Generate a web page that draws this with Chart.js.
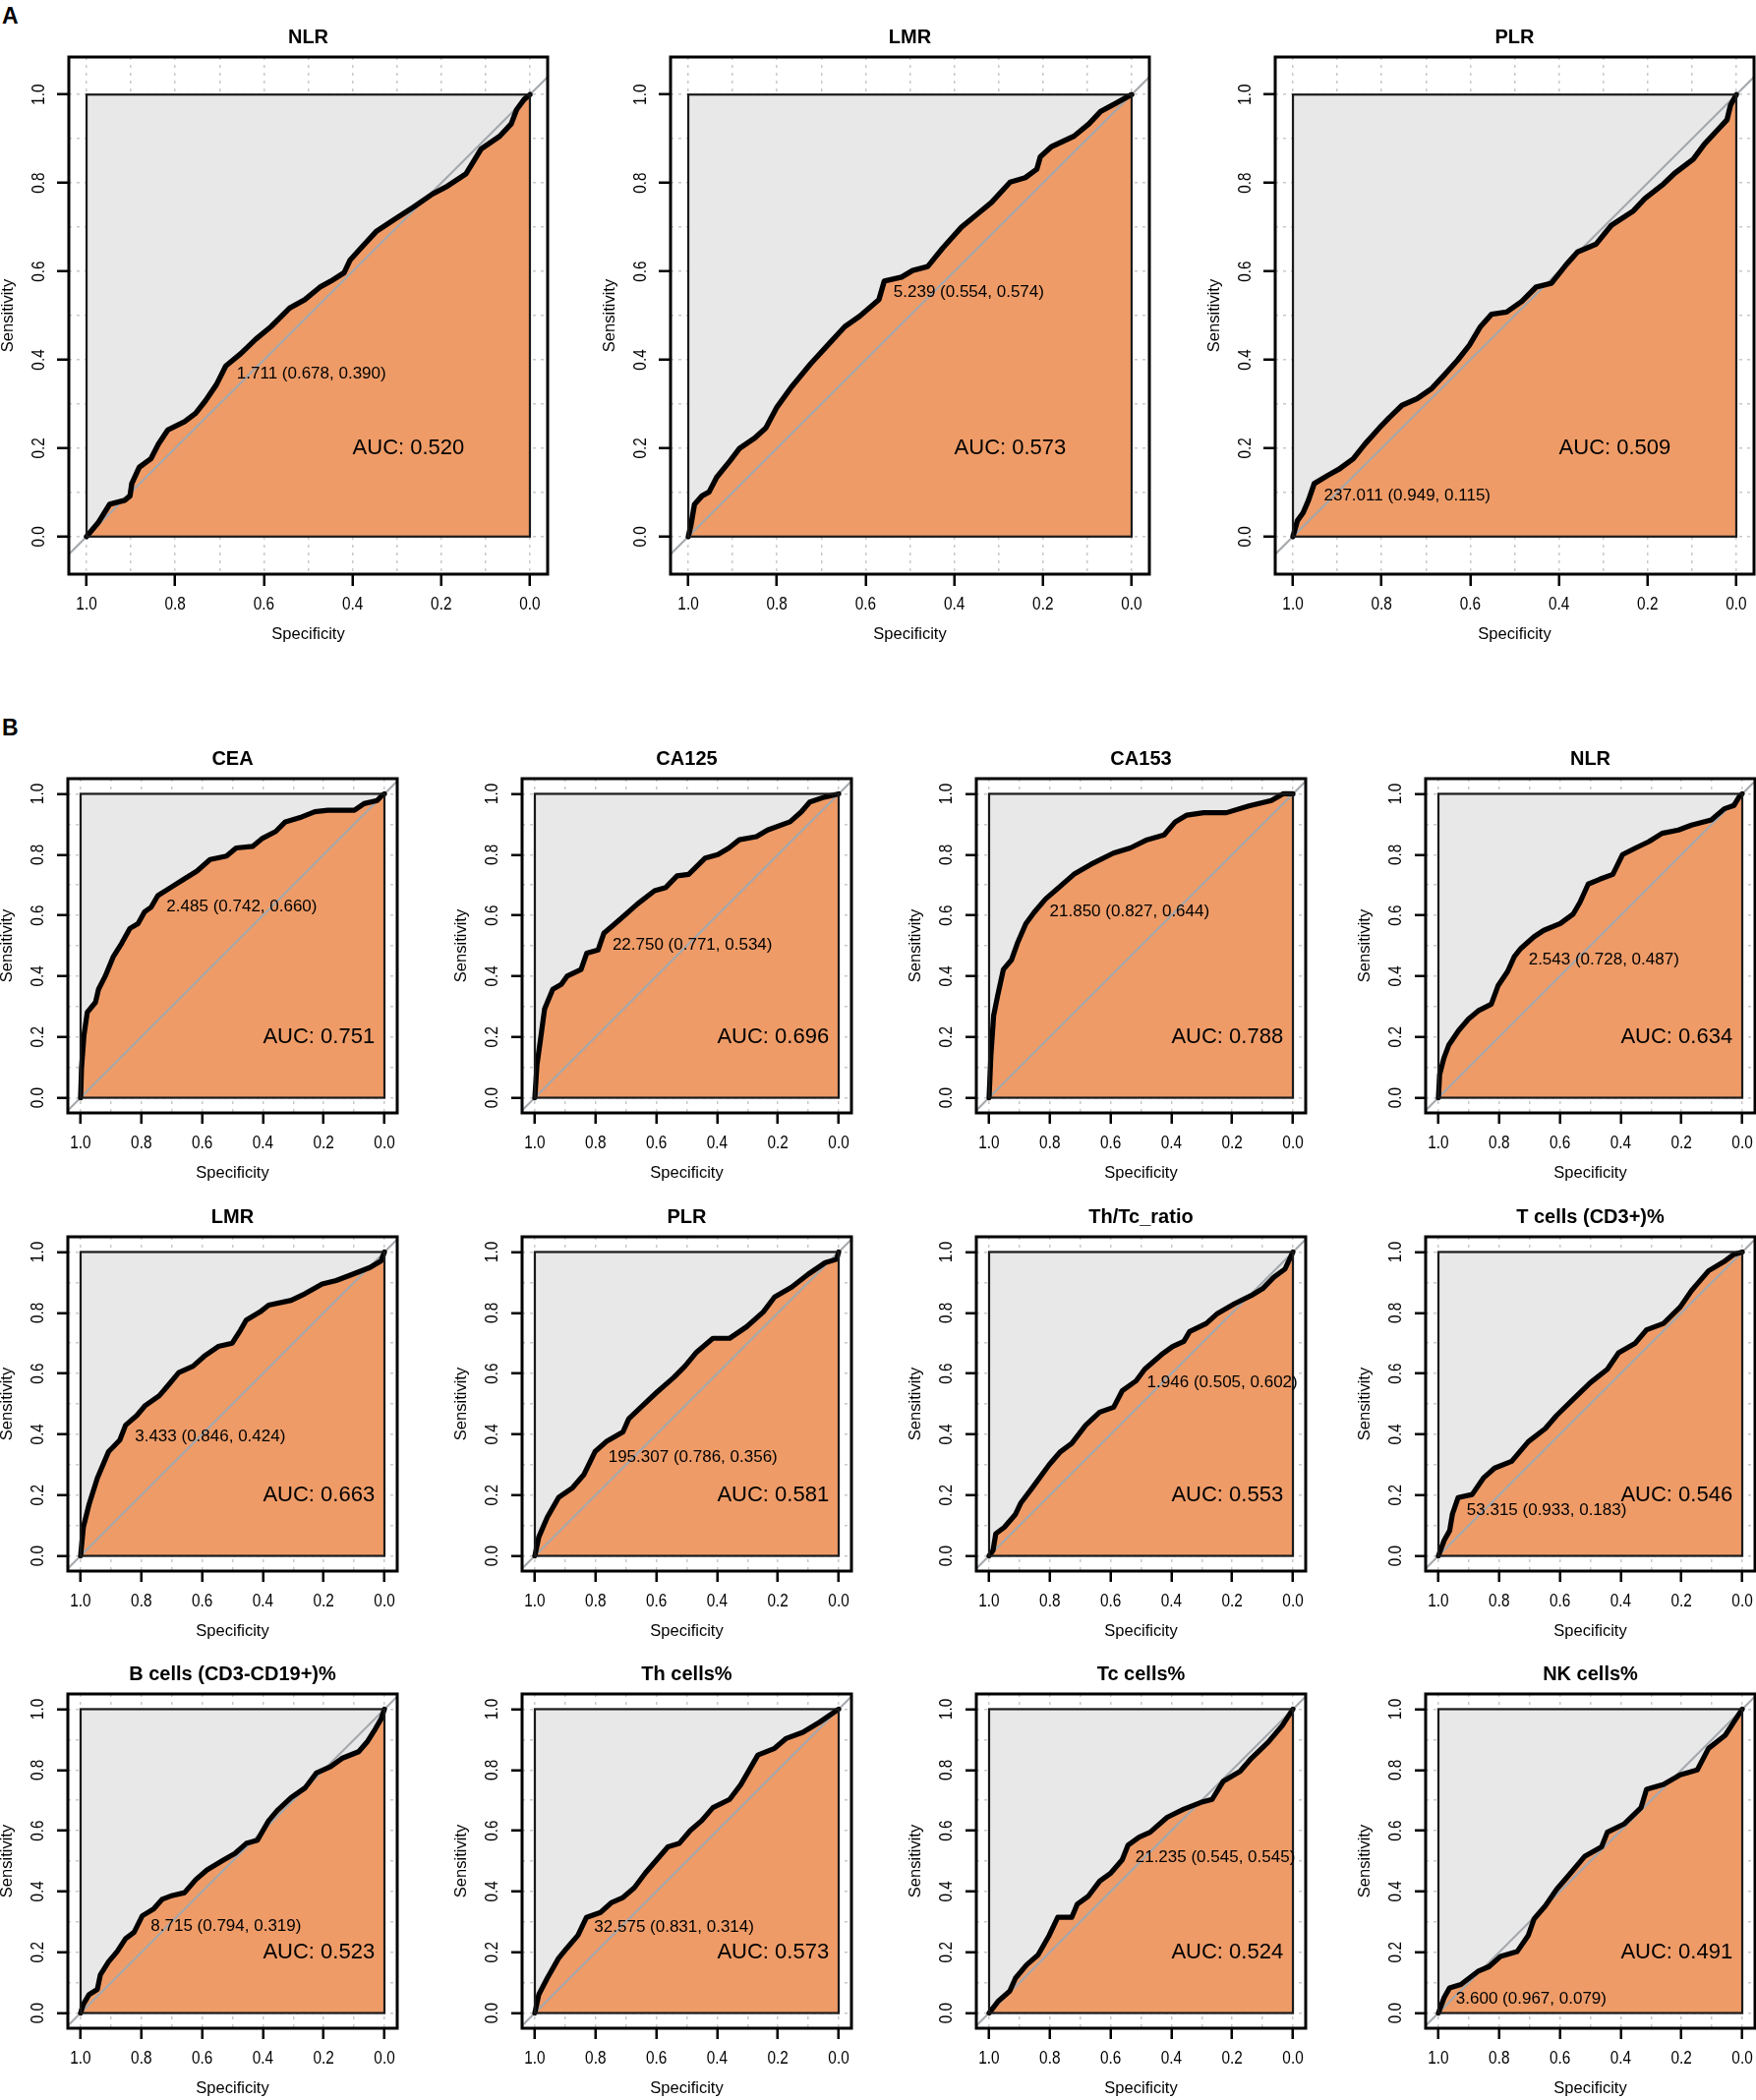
<!DOCTYPE html>
<html>
<head>
<meta charset="utf-8">
<script src="https://cdn.jsdelivr.net/npm/chart.js@4.4.1/dist/chart.umd.min.js"></script>
<style>
  body { margin: 0; background: #fff; width: 1786px; height: 2136px; overflow: hidden; position: relative;
         font-family: "Liberation Sans", Arial, Helvetica, sans-serif; }
  canvas { position: absolute; }
  .tag { position: absolute; font-weight: bold; line-height: 1; font-size: 23px; }
</style>
</head>
<body>
<div class="tag" style="left:2px;top:5px">A</div>
<div class="tag" style="left:2px;top:729px">B</div>
<script>
// ---- data (specificity / sensitivity pairs) ----
const gridVals = [0, 0.1, 0.2, 0.3, 0.4, 0.5, 0.6, 0.7, 0.8, 0.9, 1];
const labelVals = [0, 0.2, 0.4, 0.6, 0.8, 1];
const tickText = ['0.0', '0.2', '0.4', '0.6', '0.8', '1.0'];

// panel A
const titlesA = ['NLR', 'LMR', 'PLR'];
const aucA = [0.520, 0.573, 0.509];
const cutA = [1.711, 5.239, 237.011];
const cutSpecA = [0.678, 0.554, 0.949];
const cutSensA = [0.390, 0.574, 0.115];

const specA1 = [1,.974,.948,.914,.902,.898,.881,.855,.838,.817,.779,.754,.732,.707,.686,.652,.618,.584,.542,.508,.474,.449,.419,.406,.381,.347,.305,.262,.220,.186,.144,.127,.110,.068,.042,.030,.013,0];
const sensA1 = [0,.031,.073,.082,.092,.12,.157,.176,.209,.241,.26,.279,.307,.344,.386,.414,.447,.475,.517,.536,.564,.578,.597,.625,.653,.69,.718,.746,.775,.793,.821,.849,.877,.906,.934,.966,.989,1];
const specA2 = [1,.994,.986,.969,.953,.936,.906,.885,.850,.825,.8,.766,.724,.681,.647,.613,.570,.558,.519,.494,.460,.426,.384,.350,.316,.274,.240,.214,.206,.181,.130,.096,.070,.036,0];
const sensA2 = [0,.026,.073,.092,.101,.134,.171,.199,.223,.246,.293,.34,.391,.438,.475,.499,.536,.578,.587,.602,.611,.653,.7,.728,.756,.802,.812,.831,.859,.882,.906,.934,.962,.980,1];
const specA3 = [1,.99,.977,.965,.952,.922,.897,.864,.838,.805,.783,.754,.720,.687,.661,.628,.602,.577,.552,.518,.484,.451,.417,.383,.358,.316,.282,.232,.206,.164,.139,.097,.072,.046,.021,.013,0];
const sensA3 = [0,.036,.054,.082,.12,.138,.152,.176,.209,.246,.269,.297,.312,.335,.363,.4,.433,.475,.503,.508,.532,.565,.573,.616,.644,.662,.704,.737,.765,.798,.822,.854,.888,.916,.943,.976,1];

// panel B
const titlesB = ['CEA', 'CA125', 'CA153', 'NLR', 'LMR', 'PLR', 'Th/Tc_ratio', 'T cells (CD3+)%',
                 'B cells (CD3-CD19+)%', 'Th cells%', 'Tc cells%', 'NK cells%'];
const aucB = [0.751, 0.696, 0.788, 0.634, 0.663, 0.581, 0.553, 0.546, 0.523, 0.573, 0.524, 0.491];
const cutB = [2.485, 22.750, 21.850, 2.543, 3.433, 195.307, 1.946, 53.315, 8.715, 32.575, 21.235, 3.600];
const cutSpecB = [0.742, 0.771, 0.827, 0.728, 0.846, 0.786, 0.505, 0.933, 0.794, 0.831, 0.545, 0.967];
const cutSensB = [0.660, 0.534, 0.644, 0.487, 0.424, 0.356, 0.602, 0.183, 0.319, 0.314, 0.545, 0.079];

const specB1 = [1,.997,.989,.978,.951,.941,.919,.892,.865,.838,.811,.790,.768,.746,.703,.660,.617,.574,.520,.488,.434,.401,.358,.326,.272,.229,.186,.099,.067,.024,.008,0];
const sensB1 = [0,.097,.205,.281,.314,.357,.4,.465,.508,.557,.573,.611,.627,.665,.692,.719,.746,.784,.795,.822,.827,.854,.876,.908,.924,.941,.946,.946,.968,.978,.995,1];
const specB2 = [1,.993,.981,.968,.941,.913,.894,.848,.829,.792,.773,.736,.699,.662,.606,.569,.532,.494,.439,.398,.361,.327,.271,.234,.160,.123,.095,.048,0];
const sensB2 = [0,.108,.195,.292,.357,.373,.4,.422,.476,.486,.541,.573,.605,.638,.681,.692,.730,.735,.789,.80,.822,.849,.859,.881,.908,.941,.973,.989,1];
const specB3 = [1,.994,.985,.972,.953,.926,.907,.879,.851,.814,.777,.721,.665,.591,.535,.480,.424,.387,.349,.294,.219,.145,.071,.033,0];
const sensB3 = [0,.141,.27,.335,.422,.454,.508,.573,.611,.654,.686,.735,.768,.805,.822,.849,.865,.908,.930,.938,.938,.96,.978,1,1];
const specB4 = [1,.996,.982,.966,.933,.901,.869,.826,.804,.772,.750,.728,.685,.653,.599,.556,.534,.507,.469,.426,.394,.351,.307,.264,.210,.167,.102,.059,.027,.011,0];
const sensB4 = [0,.076,.13,.173,.222,.259,.286,.308,.368,.416,.465,.492,.530,.551,.573,.605,.643,.703,.719,.735,.8,.822,.843,.870,.881,.897,.914,.951,.962,.989,1];
const specB5 = [1,.991,.972,.945,.908,.871,.852,.815,.787,.741,.713,.677,.630,.593,.547,.501,.473,.455,.409,.381,.307,.261,.205,.159,.104,.048,.011,0];
const sensB5 = [0,.094,.17,.256,.343,.381,.43,.462,.495,.527,.56,.603,.624,.657,.689,.70,.744,.776,.803,.825,.841,.863,.895,.906,.927,.949,.971,1];
const specB6 = [1,.987,.959,.922,.876,.839,.802,.765,.710,.691,.645,.599,.543,.506,.470,.414,.359,.303,.248,.211,.155,.100,.044,.007,0];
const sensB6 = [0,.062,.127,.192,.224,.267,.343,.376,.408,.451,.495,.538,.587,.624,.668,.716,.716,.754,.803,.852,.884,.927,.965,.976,1];
const specB7 = [1,.987,.978,.950,.913,.895,.858,.802,.765,.728,.682,.636,.590,.562,.516,.488,.433,.396,.359,.340,.285,.248,.192,.137,.100,.063,.026,0];
const sensB7 = [0,.018,.073,.094,.137,.175,.224,.30,.343,.37,.43,.473,.489,.543,.576,.614,.662,.689,.706,.738,.765,.798,.830,.857,.879,.917,.944,1];
const specB8 = [1,.981,.963,.954,.935,.889,.852,.815,.759,.704,.648,.611,.556,.5,.444,.407,.352,.315,.259,.204,.167,.148,.111,.056,.028,0];
const sensB8 = [0,.051,.083,.137,.192,.202,.256,.289,.311,.376,.419,.462,.516,.570,.614,.668,.70,.744,.765,.819,.873,.895,.938,.971,.992,1];
const specB9 = [1,.991,.972,.945,.935,.908,.880,.852,.824,.797,.760,.732,.704,.658,.621,.584,.529,.492,.455,.418,.381,.353,.307,.261,.224,.177,.140,.085,.057,.030,.011,0];
const sensB9 = [0,.029,.061,.078,.126,.169,.202,.245,.266,.32,.342,.374,.385,.396,.439,.471,.504,.525,.558,.569,.633,.666,.709,.741,.790,.811,.838,.860,.892,.935,.968,1];
const specB10 = [1,.987,.959,.922,.895,.858,.830,.784,.747,.710,.673,.636,.599,.562,.525,.488,.451,.414,.359,.322,.266,.211,.174,.118,.063,0];
const sensB10 = [0,.061,.115,.180,.213,.256,.315,.331,.364,.380,.412,.461,.504,.547,.558,.601,.633,.676,.703,.752,.849,.871,.903,.924,.957,1];
const specB11 = [1,.969,.932,.913,.876,.839,.802,.774,.728,.710,.673,.636,.599,.562,.543,.506,.470,.414,.359,.303,.266,.229,.174,.137,.081,.035,0];
const sensB11 = [0,.040,.072,.115,.159,.191,.256,.315,.315,.358,.385,.434,.461,.504,.552,.579,.595,.644,.671,.693,.703,.763,.795,.838,.892,.946,1];
const specB12 = [1,.981,.963,.926,.870,.833,.796,.741,.704,.685,.648,.611,.574,.519,.463,.444,.389,.333,.315,.259,.204,.148,.111,.056,0];
const sensB12 = [0,.051,.083,.094,.137,.153,.186,.202,.256,.310,.353,.407,.450,.515,.547,.595,.622,.676,.736,.752,.784,.800,.871,.914,1];

// ---- drawing ----
const FONT = '"Liberation Sans", Arial, Helvetica, sans-serif';
const ORANGE = '#EE9B67';
const GREY = '#E8E8E8';
const DIAG = '#A3A8AD';

// both parts share the R text sizes; only the plot frame differs
const textStyle = {
  title: 20, titleOff: 20,
  tick: 18.5, tickSx: 0.83, xLabOff: 31, yLabOff: 30.5,
  lab: 16.5, xTitleOff: 61.5, yTitleOff: 61.5,
  auc: 22, thr: 17, thrDy: 10
};
const styleA = Object.assign({}, textStyle, { ml: 70, mt: 58, mr: 5, mb: 80, xPad: 0.04, yPad: 0.085, tickLen: 12, curveW: 5.4 });
const styleB = Object.assign({}, textStyle, { ml: 69, mt: 50, mr: 5, mb: 80, xPad: 0.042, yPad: 0.05, tickLen: 11, curveW: 5.2 });

function txt(ctx, s, x, y, size, o = {}) {
  ctx.save();
  ctx.translate(x, y);
  if (o.rot) ctx.rotate(o.rot);
  ctx.scale(o.sx || 1, 1);
  ctx.font = (o.bold ? 'bold ' : '') + size + 'px ' + FONT;
  ctx.textAlign = o.align || 'center';
  ctx.textBaseline = 'middle';
  ctx.fillStyle = '#000';
  ctx.fillText(s, 0, 0);
  ctx.restore();
}

function framePlugin(st, title, auc, cut, cutSpec, cutSens) {
  return {
    id: 'frame',
    afterDatasetsDraw(chart) {
      const { ctx, chartArea: a } = chart;
      const x = chart.scales.x, y = chart.scales.y;
      const x1 = x.getPixelForValue(1), x0 = x.getPixelForValue(0);
      const y1 = y.getPixelForValue(1), y0 = y.getPixelForValue(0);
      ctx.save();
      ctx.strokeStyle = '#1a1a1a';
      ctx.lineWidth = 2.2;
      ctx.strokeRect(x1, y1, x0 - x1, y0 - y1);
      ctx.strokeStyle = '#000';
      ctx.lineWidth = 3;
      ctx.strokeRect(a.left, a.top, a.width, a.height);
      ctx.restore();

      const cx = (a.left + a.right) / 2, cy = (a.top + a.bottom) / 2;
      txt(ctx, title, cx, a.top - st.titleOff, st.title, { bold: true });
      labelVals.forEach((v, i) => {
        txt(ctx, tickText[i], x.getPixelForValue(v), a.bottom + st.xLabOff, st.tick, { sx: st.tickSx });
        txt(ctx, tickText[i], a.left - st.yLabOff, y.getPixelForValue(v), st.tick, { sx: st.tickSx, rot: -Math.PI / 2 });
      });
      txt(ctx, 'Specificity', cx, a.bottom + st.xTitleOff, st.lab);
      txt(ctx, 'Sensitivity', a.left - st.yTitleOff, cy, st.lab, { rot: -Math.PI / 2 });

      txt(ctx, 'AUC: ' + auc.toFixed(3), x.getPixelForValue(0.4), y.getPixelForValue(0.2), st.auc, { align: 'left' });

      const label = cut.toFixed(3) + ' (' + cutSpec.toFixed(3) + ', ' + cutSens.toFixed(3) + ')';
      ctx.save();
      ctx.font = st.thr + 'px ' + FONT;
      const w = ctx.measureText(label).width;
      ctx.restore();
      txt(ctx, label, x.getPixelForValue(cutSpec) + 0.05 * w, y.getPixelForValue(cutSens) + st.thrDy, st.thr, { align: 'left' });
    }
  };
}

function axisOpts(st, horizontal) {
  return {
    type: 'linear',
    reverse: horizontal,
    min: horizontal ? -st.xPad : -st.yPad,
    max: horizontal ? 1 + st.xPad : 1 + st.yPad,
    afterBuildTicks: s => { s.ticks = gridVals.map(v => ({ value: v })); },
    afterFit: s => { if (horizontal) s.height = st.mb; else s.width = st.ml; },
    ticks: { display: false },
    border: { display: false, dash: [3, 5] },
    grid: {
      color: '#c9c9c9',
      lineWidth: 1.5,
      drawTicks: true,
      tickLength: st.tickLen,
      tickWidth: 2.5,
      tickBorderDash: [],
      tickColor: c => (c.tick && Math.round(c.tick.value * 10) % 2 !== 0) ? 'rgba(0,0,0,0)' : '#000'
    }
  };
}

function rocPanel(left, top, w, h, st, title, spec, sens, auc, cut, cutSpec, cutSens) {
  const cv = document.createElement('canvas');
  const cw = st.ml + w + st.mr, ch = st.mt + h + st.mb;
  cv.width = cw; cv.height = ch;
  cv.style.left = (left - st.ml) + 'px';
  cv.style.top = (top - st.mt) + 'px';
  cv.style.width = cw + 'px';
  cv.style.height = ch + 'px';
  document.body.appendChild(cv);

  new Chart(cv, {
    type: 'line',
    data: {
      datasets: [
        {
          data: spec.map((s, i) => ({ x: s, y: sens[i] })),
          borderColor: '#000', borderWidth: st.curveW, borderJoinStyle: 'round', borderCapStyle: 'round',
          backgroundColor: ORANGE, fill: 'origin', pointRadius: 0, tension: 0
        },
        {
          data: [{ x: 1 + st.xPad, y: -st.xPad }, { x: -st.xPad, y: 1 + st.xPad }],
          borderColor: DIAG, borderWidth: 2, fill: false, pointRadius: 0
        },
        {
          data: [{ x: 1, y: 1 }, { x: 0, y: 1 }],
          borderWidth: 0, backgroundColor: GREY, fill: 'origin', pointRadius: 0
        }
      ]
    },
    options: {
      responsive: false,
      animation: false,
      events: [],
      layout: { padding: { top: st.mt, right: st.mr, left: 0, bottom: 0 }, autoPadding: false },
      plugins: {
        legend: { display: false },
        tooltip: { enabled: false },
        filler: { drawTime: 'beforeDatasetsDraw' }
      },
      scales: { x: axisOpts(st, true), y: axisOpts(st, false) }
    },
    plugins: [framePlugin(st, title, auc, cut, cutSpec, cutSens)]
  });
}

const rocA = [[specA1, sensA1], [specA2, sensA2], [specA3, sensA3]];
const rocB = [[specB1, sensB1], [specB2, sensB2], [specB3, sensB3], [specB4, sensB4],
              [specB5, sensB5], [specB6, sensB6], [specB7, sensB7], [specB8, sensB8],
              [specB9, sensB9], [specB10, sensB10], [specB11, sensB11], [specB12, sensB12]];

const colsA = [70, 682, 1297];
rocA.forEach((r, i) => {
  rocPanel(colsA[i], 58, 487, 526, styleA, titlesA[i], r[0], r[1], aucA[i], cutA[i], cutSpecA[i], cutSensA[i]);
});

const colsB = [69, 531, 993, 1450];
const rowsB = [792, 1258, 1723];
rocB.forEach((r, i) => {
  const c = i % 4, rw = Math.floor(i / 4);
  rocPanel(colsB[c], rowsB[rw], 335, 340, styleB, titlesB[i], r[0], r[1], aucB[i], cutB[i], cutSpecB[i], cutSensB[i]);
});
</script>
</body>
</html>
